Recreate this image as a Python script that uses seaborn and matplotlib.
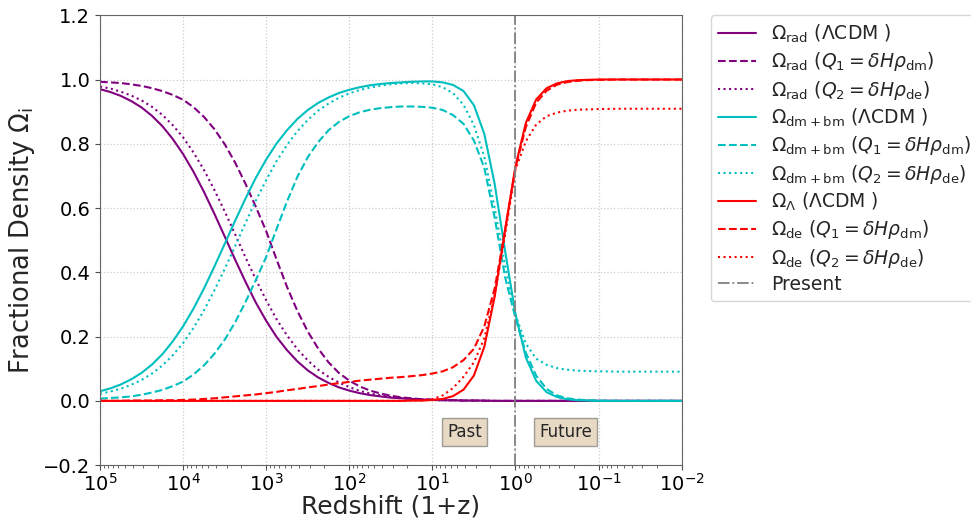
import matplotlib
matplotlib.use("Agg")
import matplotlib.pyplot as plt
import numpy as np
import seaborn as sns

log_z = [5.0, 4.875, 4.75, 4.625, 4.5, 4.375, 4.25, 4.125, 4.0, 3.875, 3.75, 3.625,
         3.5, 3.375, 3.25, 3.125, 3.0, 2.875, 2.75, 2.625, 2.5, 2.375, 2.25, 2.125,
         2.0, 1.875, 1.75, 1.625, 1.5, 1.375, 1.25, 1.125, 1.0, 0.875, 0.75, 0.625,
         0.5, 0.375, 0.25, 0.125, 0.0, -0.125, -0.25, -0.375, -0.5, -0.625, -0.75,
         -0.875, -1.0, -1.25, -1.5, -1.75, -2.0]

rad_lcdm = [0.970, 0.961, 0.949, 0.933, 0.913, 0.887, 0.855, 0.815, 0.768, 0.713, 0.651, 0.583,
            0.512, 0.440, 0.371, 0.306, 0.249, 0.199, 0.158, 0.123, 0.095, 0.073, 0.056, 0.042,
            0.032, 0.024, 0.018, 0.014, 0.010, 0.008, 0.006, 0.004, 0.003, 0.002, 0.002, 0.001,
            0.001, 0.001, 0, 0, 0, 0, 0, 0, 0, 0, 0, 0, 0, 0, 0, 0, 0]
rad_q1 = [0.993, 0.991, 0.989, 0.985, 0.980, 0.973, 0.964, 0.952, 0.937, 0.914, 0.884, 0.846,
          0.799, 0.742, 0.676, 0.604, 0.528, 0.440, 0.355, 0.280, 0.216, 0.163, 0.120, 0.087,
          0.063, 0.045, 0.032, 0.023, 0.016, 0.011, 0.008, 0.005, 0.004, 0.003, 0.002, 0.001,
          0.001, 0, 0, 0, 0, 0, 0, 0, 0, 0, 0, 0, 0, 0, 0, 0, 0]
rad_q2 = [0.978, 0.972, 0.962, 0.950, 0.935, 0.915, 0.890, 0.858, 0.820, 0.773, 0.719, 0.657,
          0.590, 0.519, 0.447, 0.378, 0.313, 0.254, 0.204, 0.161, 0.126, 0.097, 0.075, 0.057,
          0.043, 0.031, 0.023, 0.017, 0.012, 0.009, 0.006, 0.004, 0.003, 0.002, 0.002, 0.001,
          0.001, 0.001, 0, 0, 0, 0, 0, 0, 0, 0, 0, 0, 0, 0, 0, 0, 0]

dm_lcdm = [0.030, 0.039, 0.051, 0.067, 0.087, 0.113, 0.145, 0.185, 0.232, 0.287, 0.349, 0.417,
           0.488, 0.560, 0.629, 0.694, 0.751, 0.801, 0.842, 0.877, 0.905, 0.927, 0.944, 0.958,
           0.968, 0.976, 0.982, 0.986, 0.989, 0.991, 0.993, 0.994, 0.994, 0.991, 0.983, 0.964,
           0.920, 0.831, 0.675, 0.467, 0.270, 0.135, 0.062, 0.027, 0.012, 0.005, 0.002, 0.001,
           0, 0, 0, 0, 0]
dm_q1 = [0.007, 0.009, 0.011, 0.014, 0.019, 0.026, 0.034, 0.046, 0.060, 0.082, 0.110, 0.146,
         0.190, 0.244, 0.307, 0.376, 0.448, 0.535, 0.620, 0.697, 0.758, 0.805, 0.842, 0.868,
         0.886, 0.898, 0.906, 0.911, 0.914, 0.916, 0.916, 0.915, 0.912, 0.905, 0.889, 0.862,
         0.810, 0.725, 0.570, 0.385, 0.258, 0.150, 0.078, 0.037, 0.017, 0.008, 0.004, 0.002,
         0.001, 0, 0, 0, 0]
dm_q2 = [0.022, 0.029, 0.038, 0.050, 0.065, 0.085, 0.110, 0.142, 0.180, 0.227, 0.281, 0.343,
         0.410, 0.481, 0.553, 0.623, 0.687, 0.746, 0.796, 0.839, 0.874, 0.903, 0.925, 0.943,
         0.957, 0.967, 0.975, 0.981, 0.985, 0.988, 0.989, 0.988, 0.985, 0.976, 0.957, 0.921,
         0.858, 0.760, 0.600, 0.420, 0.268, 0.178, 0.131, 0.112, 0.102, 0.097, 0.094, 0.093,
         0.092, 0.091, 0.091, 0.091, 0.091]

de_lcdm = [0, 0, 0, 0, 0, 0, 0, 0, 0, 0, 0, 0, 0, 0, 0, 0, 0, 0, 0, 0, 0, 0, 0, 0, 0, 0, 0,
           0, 0, 0, 0.001, 0.001, 0.003, 0.006, 0.015, 0.035, 0.079, 0.168, 0.325, 0.533,
           0.730, 0.865, 0.938, 0.973, 0.988, 0.995, 0.998, 0.999, 1.0, 1.0, 1.0, 1.0, 1.0]
de_q1 = [0, 0, 0, 0.001, 0.001, 0.001, 0.002, 0.002, 0.003, 0.004, 0.006, 0.008, 0.011, 0.014,
         0.017, 0.020, 0.024, 0.028, 0.033, 0.037, 0.042, 0.046, 0.051, 0.055, 0.059, 0.063,
         0.066, 0.069, 0.072, 0.074, 0.077, 0.080, 0.085, 0.092, 0.105, 0.127, 0.162, 0.232,
         0.350, 0.530, 0.725, 0.852, 0.928, 0.965, 0.984, 0.992, 0.996, 0.998, 0.999, 1.0,
         1.0, 1.0, 1.0]
de_q2 = [0, 0, 0, 0, 0, 0, 0, 0, 0, 0, 0, 0, 0, 0, 0, 0, 0, 0, 0, 0, 0, 0, 0, 0, 0, 0, 0,
         0, 0, 0, 0.001, 0.002, 0.005, 0.017, 0.040, 0.075, 0.120, 0.195, 0.330, 0.515,
         0.720, 0.808, 0.860, 0.886, 0.897, 0.903, 0.906, 0.907, 0.908, 0.909, 0.909, 0.909,
         0.909]

series = [
    (rad_lcdm, "purple", "-", r"$\Omega_{\rm rad}$ ($\Lambda$CDM )"),
    (rad_q1, "purple", "--", r"$\Omega_{\rm rad}$ ($Q_1=\delta H\rho_{\rm dm}$)"),
    (rad_q2, "purple", ":", r"$\Omega_{\rm rad}$ ($Q_2=\delta H\rho_{\rm de}$)"),
    (dm_lcdm, "c", "-", r"$\Omega_{\rm dm+bm}$ ($\Lambda$CDM )"),
    (dm_q1, "c", "--", r"$\Omega_{\rm dm+bm}$ ($Q_1=\delta H\rho_{\rm dm}$)"),
    (dm_q2, "c", ":", r"$\Omega_{\rm dm+bm}$ ($Q_2=\delta H\rho_{\rm de}$)"),
    (de_lcdm, "r", "-", r"$\Omega_\Lambda$ ($\Lambda$CDM )"),
    (de_q1, "r", "--", r"$\Omega_{\rm de}$ ($Q_1=\delta H\rho_{\rm dm}$)"),
    (de_q2, "r", ":", r"$\Omega_{\rm de}$ ($Q_2=\delta H\rho_{\rm de}$)"),
]

sns.set_style("ticks")
plt.rcParams["font.family"] = ["DejaVu Sans"]

redshift = 10.0 ** np.array(log_z)

fig = plt.figure(figsize=(9.71, 5.25), dpi=100)
ax = fig.add_axes([0.103, 0.114, 0.599, 0.857])

for vals, color, ls, label in series:
    sns.lineplot(x=redshift, y=vals, ax=ax, color=color, linestyle=ls, lw=1.5,
                 label=label, sort=False, estimator=None)

ax.axvline(1.0, color="gray", ls="-.", lw=1.3, label="Present")

ax.set_xscale("log")
ax.set_xlim(1e5, 1e-2)
ax.set_ylim(-0.2, 1.2)
ax.set_yticks(np.arange(-0.2, 1.21, 0.2))
ax.grid(True, which="major", ls=":", color="0.8", lw=0.9)
for sp in ax.spines.values():
    sp.set_color("0.4")
ax.tick_params(labelsize=14, colors="black")
ax.tick_params(which="both", color="0.3")
ax.tick_params(axis="x", which="major", pad=2)

ax.set_xlabel("Redshift (1+z)", fontsize=18, labelpad=0)
ax.set_ylabel(r"Fractional Density $\Omega_{\rm i}$", fontsize=18.5)

box = dict(boxstyle="square,pad=0.3", facecolor="tan", alpha=0.5, edgecolor="0.3")
ax.text(4.07, -0.096, "Past", fontsize=12, ha="center", va="center", bbox=box)
ax.text(0.248, -0.096, "Future", fontsize=12, ha="center", va="center", bbox=box)

ax.legend(loc="upper left", bbox_to_anchor=(1.05, 1.0), borderaxespad=0, fontsize=13.5,
          labelspacing=0.28)

fig.savefig("out.png", dpi=100)
